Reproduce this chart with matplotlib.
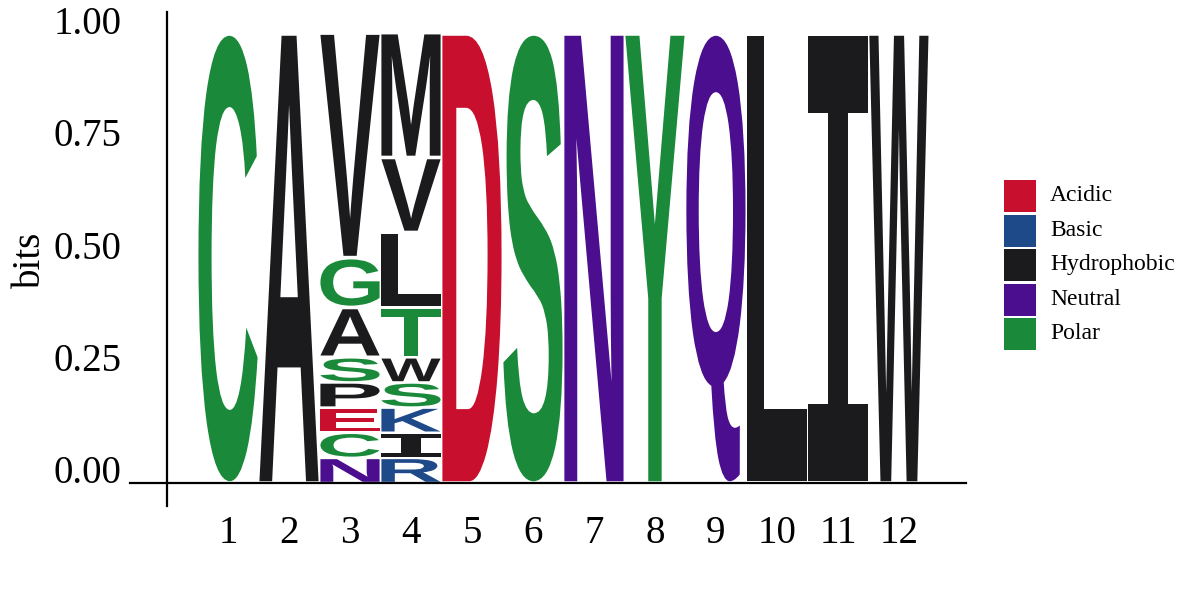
import matplotlib.pyplot as plt
from matplotlib.textpath import TextPath
from matplotlib.patches import PathPatch, Rectangle
from matplotlib.font_manager import FontProperties
from matplotlib.transforms import Affine2D

# stacks read bottom -> top, heights in bits
pos1_letters, pos1_bits = ['C'], [1.0]
pos2_letters, pos2_bits = ['A'], [1.0]
pos3_letters = ['N', 'C', 'E', 'P', 'S', 'A', 'G', 'V']
pos3_bits = [0.056, 0.056, 0.056, 0.056, 0.056, 0.111, 0.111, 0.5]
pos4_letters = ['R', 'I', 'K', 'S', 'W', 'T', 'L', 'V', 'M']
pos4_bits = [0.056, 0.056, 0.056, 0.056, 0.056, 0.111, 0.167, 0.167, 0.278]
pos5_letters, pos5_bits = ['D'], [1.0]
pos6_letters, pos6_bits = ['S'], [1.0]
pos7_letters, pos7_bits = ['N'], [1.0]
pos8_letters, pos8_bits = ['Y'], [1.0]
pos9_letters, pos9_bits = ['Q'], [1.0]
pos10_letters, pos10_bits = ['L'], [1.0]
pos11_letters, pos11_bits = ['I'], [1.0]
pos12_letters, pos12_bits = ['W'], [1.0]

stacks = [
    (pos1_letters, pos1_bits), (pos2_letters, pos2_bits),
    (pos3_letters, pos3_bits), (pos4_letters, pos4_bits),
    (pos5_letters, pos5_bits), (pos6_letters, pos6_bits),
    (pos7_letters, pos7_bits), (pos8_letters, pos8_bits),
    (pos9_letters, pos9_bits), (pos10_letters, pos10_bits),
    (pos11_letters, pos11_bits), (pos12_letters, pos12_bits),
]

groups = ['Acidic', 'Basic', 'Hydrophobic', 'Neutral', 'Polar']
group_colors = ['#C8102E', '#1F4A8A', '#1B1A1C', '#4A0E8E', '#1A8A3A']
group_members = ['DE', 'KRH', 'AVMLIWPF', 'NQ', 'CSGTY']

y_ticks = [0.0, 0.25, 0.5, 0.75, 1.0]

color_of = {}
for members, col in zip(group_members, group_colors):
    for aa in members:
        color_of[aa] = col

serif = 'Liberation Serif'
glyph_font = FontProperties(family='Liberation Sans', weight='bold')
# the logo's I carries slab serifs
slab_font = FontProperties(family='DejaVu Sans Mono', weight='bold')

fig = plt.figure(figsize=(12, 6), dpi=100)
ax = fig.add_axes([0.1087, 0.1575, 0.6963, 0.8233])
ax.set_xlim(-0.6, 13.1)
ax.set_ylim(-0.05, 1.05)


def draw_letter(ax, aa, x, y0, h, width=0.97):
    fp = slab_font if aa == 'I' else glyph_font
    tp = TextPath((0, 0), aa, size=1, prop=fp)
    ext = tp.get_extents()
    gap = min(0.004, h * 0.05)
    hh = h - 2 * gap
    tr = (Affine2D()
          .translate(-ext.x0, -ext.y0)
          .scale(width / ext.width, hh / ext.height)
          .translate(x - width / 2, y0 + gap))
    patch = PathPatch(tr.transform_path(tp), facecolor=color_of[aa],
                      edgecolor='none', lw=0)
    ax.add_patch(patch)


for i, (letters, bits) in enumerate(stacks):
    pos = i + 1
    base = 0.0
    for aa, b in zip(letters, bits):
        draw_letter(ax, aa, pos, base, b)
        base += b

# axes styling
for side in ['top', 'right']:
    ax.spines[side].set_visible(False)
ax.spines['left'].set_position(('data', 0))
ax.spines['bottom'].set_position(('data', 0))
ax.spines['left'].set_linewidth(1.6)
ax.spines['bottom'].set_linewidth(1.6)

ax.set_xticks(range(1, 13))
ax.set_xticklabels([str(p) for p in range(1, 13)], family=serif, fontsize=28)
ax.set_yticks(y_ticks)
ax.set_yticklabels([f'{v:.2f}' for v in y_ticks], family=serif, fontsize=28)
for lbl in ax.get_yticklabels():
    lbl.set_va('baseline')
ax.tick_params(axis='x', length=0, pad=23)
ax.tick_params(axis='y', length=0, pad=33)

fig.text(30 / 1200, 1 - 260 / 600, 'bits', rotation=90, ha='center',
         va='center', family=serif, fontsize=28)

# legend
sq_x, sq_w, sq_h = 1004, 31.5, 31.7
row_top = [180, 215, 249, 284, 318]
for name, col, top in zip(groups, group_colors, row_top):
    fig.add_artist(Rectangle((sq_x / 1200, 1 - (top + sq_h) / 600),
                             sq_w / 1200, sq_h / 600,
                             facecolor=col, edgecolor='none',
                             transform=fig.transFigure))
    fig.text(1050 / 1200, 1 - (top + sq_h / 2) / 600, name, ha='left',
             va='center', family=serif, fontsize=17)

fig.savefig('out.png', dpi=100)
